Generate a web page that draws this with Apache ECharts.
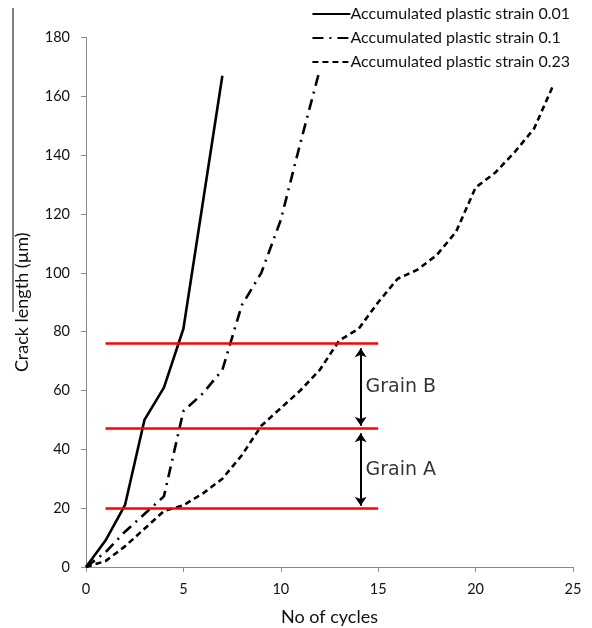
<!DOCTYPE html>
<html>
<head>
<meta charset="utf-8">
<script src="https://cdn.jsdelivr.net/npm/echarts@6/dist/echarts.min.js"></script>
<style>
  html, body { margin: 0; padding: 0; background: #fff; }
  #chart { width: 592px; height: 628px; }
</style>
</head>
<body>
<div id="chart"></div>
<script>
// Crack length versus number of cycles for three accumulated plastic strain levels
const seriesNames = [
  'Accumulated plastic strain 0.01',
  'Accumulated plastic strain 0.1',
  'Accumulated plastic strain 0.23'
];
const strain001 = [[0, 0], [1, 9], [2, 21], [3, 50], [4, 61], [5, 81], [6, 124], [7, 167]];
const strain01 = [[0, 0], [1, 5], [2, 12], [3, 18], [4, 24], [5, 53], [6, 59], [7, 67],
  [8, 89], [9, 100], [10, 118], [11, 144], [12, 169]];
const strain023 = [[0, 0], [1, 2], [2, 7], [3, 13], [4, 19], [5, 21], [6, 25], [7, 30],
  [8, 38], [9, 48], [10, 54], [11, 60], [12, 67], [13, 77], [14, 81], [15, 90], [16, 98],
  [17, 101], [18, 106], [19, 114], [20, 129], [21, 134], [22, 141], [23, 149], [24, 164]];

// Grain boundaries (crack length levels) and the span they cover in cycles
const boundaryLevels = [76, 47, 20];
const boundarySpan = [1, 15];
// Grain extents marked with double arrows
const grainNames = ['Grain B', 'Grain A'];
const grainArrowX = 14.1;
const grainArrows = [[74.4, 48], [45.5, 20.8]];
const grainLabelPos = [[14.35, 61], [14.35, 33]];

const labelFont = 'Lato, "Open Sans", sans-serif';

const chart = echarts.init(document.getElementById('chart'), null, { renderer: 'canvas' });

const lineCommon = { type: 'line', symbol: 'none', z: 3, emphasis: { disabled: true } };

chart.setOption({
  animation: false,
  backgroundColor: '#fff',
  grid: { left: 86, right: 19, top: 37.5, bottom: 61, containLabel: false, outerBoundsMode: 'none' },
  legend: {
    data: seriesNames,
    orient: 'vertical',
    right: 20,
    top: 6,
    itemWidth: 38,
    itemHeight: 12,
    itemGap: 8,
    align: 'left',
    backgroundColor: '#fff',
    padding: [0, 2, 2, 2],
    itemStyle: { opacity: 0 },
    textStyle: { fontFamily: labelFont, fontSize: 16, color: '#111', padding: [0, 0, 0, -5] }
  },
  xAxis: {
    type: 'value', min: 0, max: 25, interval: 5,
    name: 'No of cycles', nameLocation: 'middle', nameGap: 41,
    nameTextStyle: { fontFamily: labelFont, fontSize: 18, color: '#111' },
    axisLine: { lineStyle: { color: '#8a8a8a', width: 1 } },
    axisTick: { show: true, length: 5, lineStyle: { color: '#8a8a8a' } },
    axisLabel: { fontFamily: labelFont, fontSize: 14.5, color: '#111', margin: 15 },
    splitLine: { show: false }
  },
  yAxis: {
    type: 'value', min: 0, max: 180, interval: 20,
    name: 'Crack length (µm)', nameLocation: 'middle', nameGap: 55,
    nameTextStyle: { fontFamily: labelFont, fontSize: 18, color: '#111' },
    axisLine: { show: true, lineStyle: { color: '#8a8a8a', width: 1 } },
    axisTick: { show: true, length: 5, lineStyle: { color: '#8a8a8a' } },
    axisLabel: { fontFamily: labelFont, fontSize: 14.5, color: '#111', margin: 16 },
    splitLine: { show: false }
  },
  series: [
    Object.assign({}, lineCommon, {
      name: seriesNames[0], data: strain001,
      lineStyle: { color: '#000', width: 2.6, type: 'solid' },
      itemStyle: { color: '#000' }
    }),
    Object.assign({}, lineCommon, {
      name: seriesNames[1], data: strain01,
      lineStyle: { color: '#000', width: 2.6, type: [11, 6, 2, 6] },
      itemStyle: { color: '#000' }
    }),
    Object.assign({}, lineCommon, {
      name: seriesNames[2], data: strain023,
      lineStyle: { color: '#000', width: 2.6, type: [6, 4] },
      itemStyle: { color: '#000' }
    }),
    {
      type: 'lines', coordinateSystem: 'cartesian2d', z: 4,
      lineStyle: { color: '#ff0000', width: 2.5, opacity: 1 },
      data: boundaryLevels.map(v => ({ coords: [[boundarySpan[0], v], [boundarySpan[1], v]] }))
    },
    {
      type: 'lines', coordinateSystem: 'cartesian2d', z: 5,
      symbol: ['arrow', 'arrow'], symbolSize: 9,
      lineStyle: { color: '#000', width: 2, opacity: 1 },
      data: grainArrows.map(a => ({ coords: [[grainArrowX, a[0]], [grainArrowX, a[1]]] }))
    },
    {
      type: 'scatter', symbolSize: 0, z: 5, silent: true,
      data: grainNames.map((n, i) => ({ name: n, value: grainLabelPos[i] })),
      label: {
        show: true, position: 'right', distance: 0,
        formatter: p => p.name,
        fontFamily: '"DejaVu Sans", sans-serif', fontSize: 19, color: '#000'
      }
    }
  ],
  graphic: [
    { type: 'line', shape: { x1: 13, y1: 8, x2: 13, y2: 312 }, style: { stroke: '#000', lineWidth: 1 } }
  ]
});
</script>
</body>
</html>
